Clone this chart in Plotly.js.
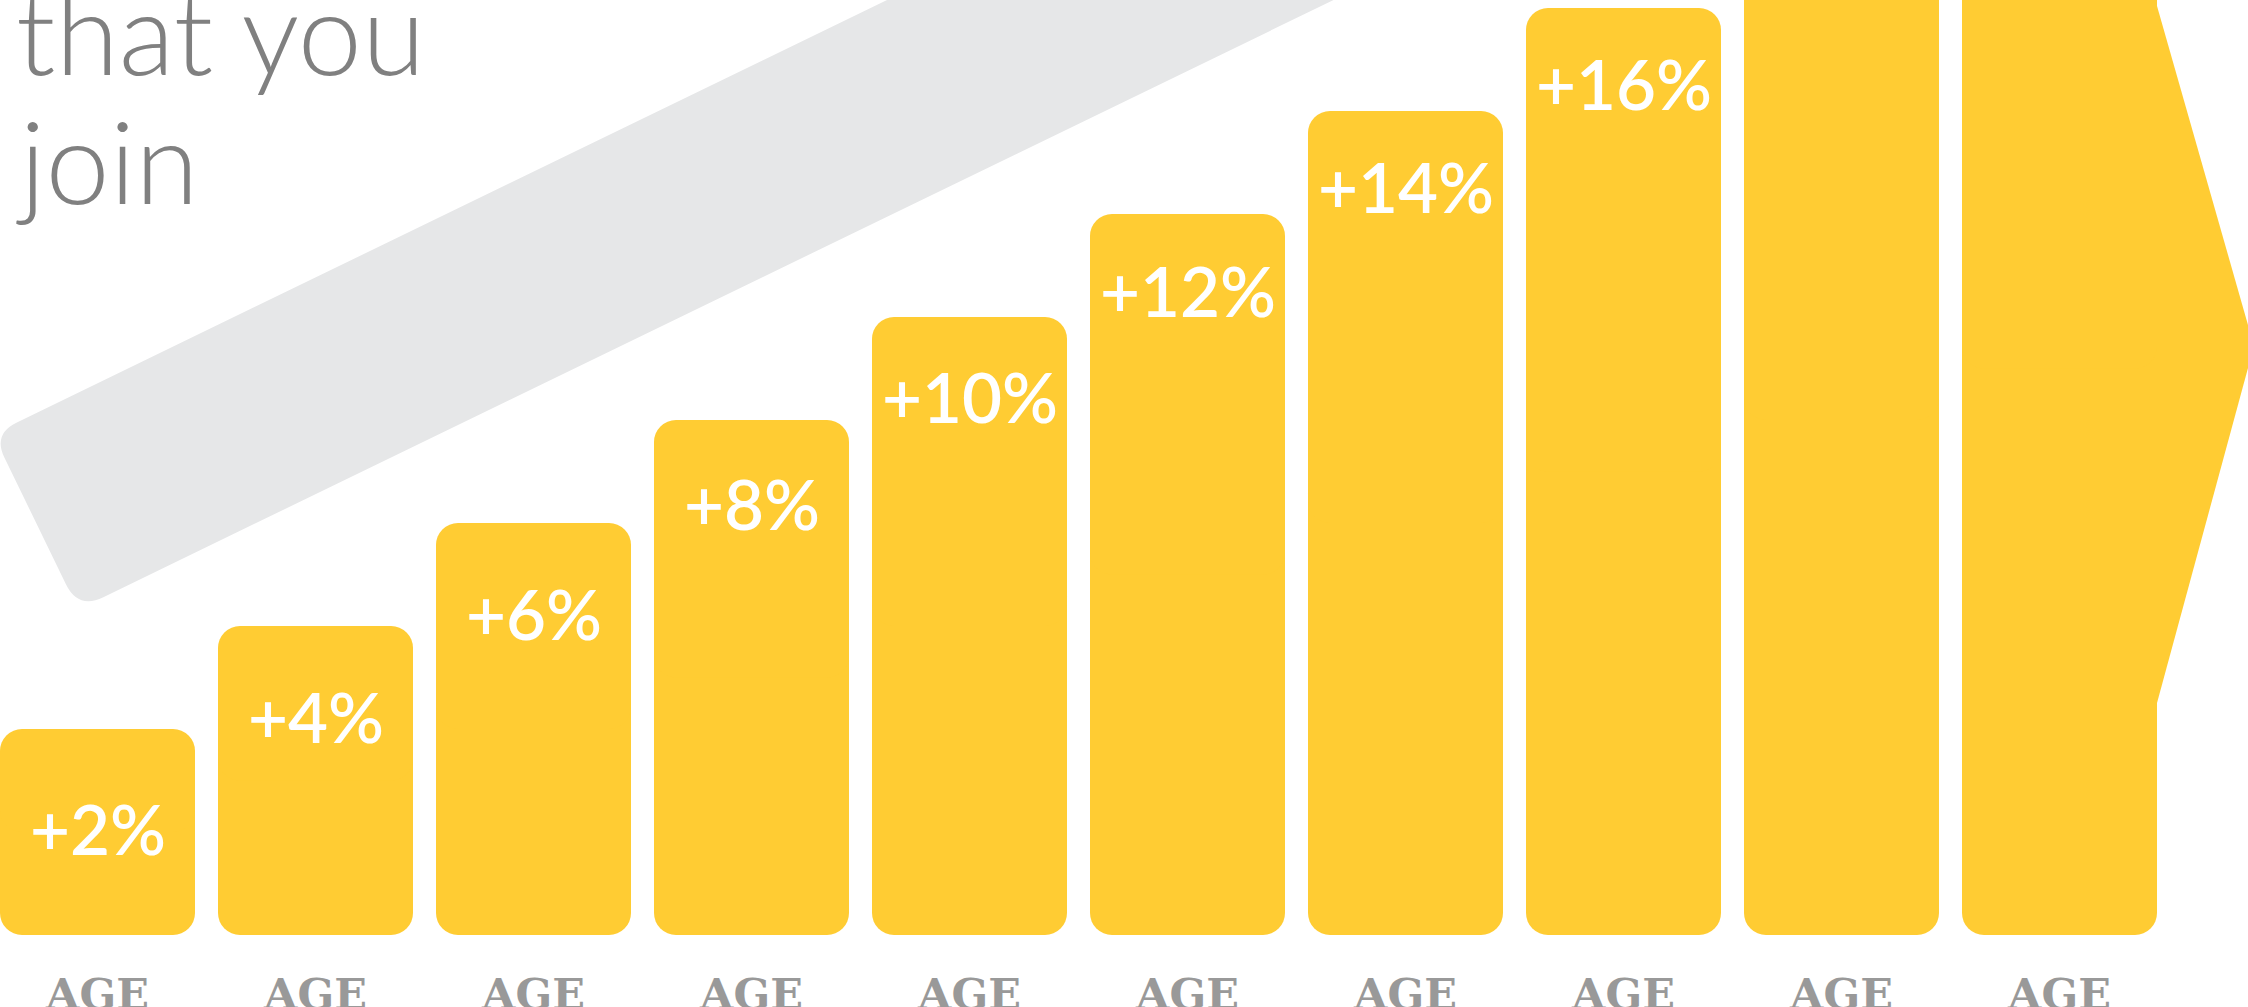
<!DOCTYPE html>
<html>
<head>
<meta charset="utf-8">
<script src="https://cdn.plot.ly/plotly-3.0.1.min.js"></script>
<style>html,body{margin:0;padding:0;background:#ffffff;overflow:hidden}</style>
</head>
<body>
<div id="chart" style="width:2248px;height:1007px"></div>
<script>
// ---------------- DATA ----------------
const positions   = [0, 1, 2, 3, 4, 5, 6, 7, 8, 9];
const ageLabels   = ['AGE', 'AGE', 'AGE', 'AGE', 'AGE', 'AGE', 'AGE', 'AGE', 'AGE', 'AGE'];
const increases   = [2, 4, 6, 8, 10, 12, 14, 16, 18, 20];
const barLabels   = ['+2%', '+4%', '+6%', '+8%', '+10%', '+12%', '+14%', '+16%', '+18%', '+20%'];
const titleLines  = ['that you', 'join'];

// ---------------- LAYOUT / STYLE ----------------
const W = 2248, H = 1007;
const marginB = 72;                 // plot bottom at 935 px
const plotH = H - marginB;
const pxPerUnitY = 51.5;
const baseY = -2;                   // bars grow from this level
const yTop = baseY + plotH / pxPerUnitY;
const pxPerUnitX = 218;
const firstCenterPx = 97.5;
const xMin = -firstCenterPx / pxPerUnitX;
const xMax = xMin + W / pxPerUnitX;
const barW = 195 / pxPerUnitX;
const YELLOW = '#FFCC33';
const labelDropPx = [99, 90, 90, 83, 79, 76, 75, 75, 75, 75];
const overlap = 1.0;                // overlap of the two halves (hides inner rounding)

const mids = increases.map(v => (v + baseY) / 2);

// lower half (drawn downward): rounded bottom corners
const lower = {
  type: 'bar', x: positions, base: mids.map(m => m + overlap), y: mids.map(m => baseY - (m + overlap)),
  width: barW, marker: {color: YELLOW, line: {width: 0}}, hoverinfo: 'skip', showlegend: false
};
// upper half: rounded top corners
const upper = {
  type: 'bar', x: positions, base: mids, y: increases.map((v, i) => v - mids[i]),
  width: barW, marker: {color: YELLOW, line: {width: 0}}, hoverinfo: 'skip', showlegend: false
};

const annotations = barLabels.map((t, i) => ({
  x: positions[i], y: increases[i] - labelDropPx[i] / pxPerUnitY, xref: 'x', yref: 'y',
  text: t, showarrow: false, xanchor: 'center', yanchor: 'middle',
  font: {family: 'Lato, "Noto Sans", sans-serif', size: 69, color: '#ffffff', weight: 600}
}));

// title fragment
const px2paperX = px => px / W;
const py2paperY = py => (plotH - py) / plotH;
annotations.push({
  xref: 'paper', yref: 'paper', x: px2paperX(14), y: py2paperY(30), xanchor: 'left', yanchor: 'middle',
  text: titleLines[0], showarrow: false,
  font: {family: 'Lato, "Open Sans", sans-serif', size: 115, color: '#808080', weight: 300}
});
annotations.push({
  xref: 'paper', yref: 'paper', x: px2paperX(14), y: py2paperY(159), xanchor: 'left', yanchor: 'middle',
  text: titleLines[1], showarrow: false,
  font: {family: 'Lato, "Open Sans", sans-serif', size: 115, color: '#808080', weight: 300}
});

// grey band (decorative) -- rotated rounded rectangle
function bandPath() {
  const u = [0.8996, -0.4367], n = [0.4367, 0.8996], Wd = 195, L = 2400;
  const P1 = [-7, 434];
  const P2 = [P1[0] + Wd * n[0], P1[1] + Wd * n[1]];
  const P4 = [P1[0] + L * u[0], P1[1] + L * u[1]];
  const P3 = [P2[0] + L * u[0], P2[1] + L * u[1]];
  const r1 = 26, r2 = 28;
  const pt = p => px2paperX(p[0]).toFixed(5) + ',' + py2paperY(p[1]).toFixed(5);
  const add = (p, v, s) => [p[0] + v[0] * s, p[1] + v[1] * s];
  return 'M' + pt(add(P1, u, r1)) + ' L' + pt(P4) + ' L' + pt(P3) + ' L' + pt(add(P2, u, r2)) +
         ' Q' + pt(P2) + ' ' + pt(add(P2, n, -r2)) + ' L' + pt(add(P1, n, r1)) +
         ' Q' + pt(P1) + ' ' + pt(add(P1, u, r1)) + ' Z';
}
// arrow head on the last bar (decorative)
function arrowPath() {
  const pts = [[2147, 6], [2157, 6], [2254, 346], [2157, 703], [2147, 703]];
  return 'M' + pts.map(p => px2paperX(p[0]).toFixed(5) + ',' + py2paperY(p[1]).toFixed(5)).join(' L') + ' Z';
}

const layout = {
  width: W, height: H,
  margin: {l: 0, r: 0, t: 0, b: marginB, pad: 0},
  paper_bgcolor: '#ffffff', plot_bgcolor: 'rgba(0,0,0,0)',
  barmode: 'overlay', barcornerradius: 22,
  showlegend: false,
  xaxis: {
    range: [xMin, xMax], showgrid: false, zeroline: false, showline: false, ticks: '',
    tickmode: 'array', tickvals: positions, ticktext: ageLabels, ticklabelstandoff: 30,
    tickfont: {family: '"DejaVu Serif", serif', size: 43, color: '#999999', weight: 'bold'},
    fixedrange: true
  },
  yaxis: {range: [baseY, yTop], visible: false, showgrid: false, zeroline: false, fixedrange: true},
  shapes: [
    {type: 'path', xref: 'paper', yref: 'paper', path: bandPath(), fillcolor: '#E6E7E8', line: {width: 0}, layer: 'below'},
    {type: 'path', xref: 'paper', yref: 'paper', path: arrowPath(), fillcolor: YELLOW, line: {width: 0}, layer: 'below'}
  ],
  annotations: annotations
};

Plotly.newPlot('chart', [lower, upper], layout, {staticPlot: true, displayModeBar: false});
</script>
</body>
</html>
